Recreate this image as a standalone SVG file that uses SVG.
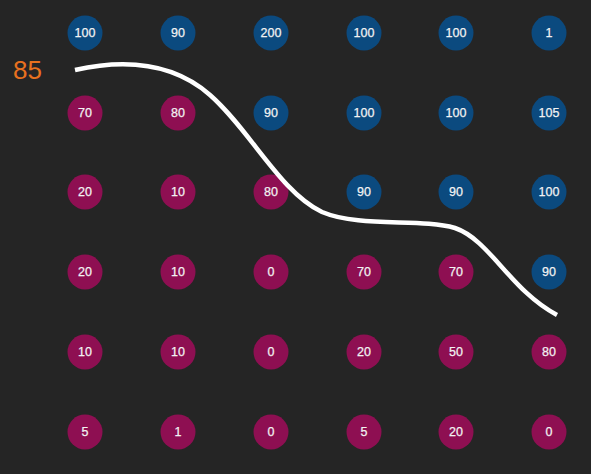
<svg xmlns="http://www.w3.org/2000/svg" width="591" height="474" viewBox="0 0 591 474">
<style>
.b{fill:#0b4a7f}
.r{fill:#8e0f52}
text{font-family:"Liberation Sans",Arial,sans-serif}
.t{fill:#f2f2f2;font-size:12.5px;text-anchor:middle;dominant-baseline:central;stroke:#f2f2f2;stroke-width:0.25}
</style>
<rect width="591" height="474" fill="#252525"/>
<text x="13" y="79" font-size="26" fill="#e8711f">85</text>
<g id="nodes">
<g id="n0_0"><circle class="b" cx="85" cy="33" r="17.5"/><text class="t" x="85" y="33">100</text></g>
<g id="n0_1"><circle class="b" cx="178" cy="33" r="17.5"/><text class="t" x="178" y="33">90</text></g>
<g id="n0_2"><circle class="b" cx="271" cy="33" r="17.5"/><text class="t" x="271" y="33">200</text></g>
<g id="n0_3"><circle class="b" cx="364" cy="33" r="17.5"/><text class="t" x="364" y="33">100</text></g>
<g id="n0_4"><circle class="b" cx="456" cy="33" r="17.5"/><text class="t" x="456" y="33">100</text></g>
<g id="n0_5"><circle class="b" cx="549" cy="33" r="17.5"/><text class="t" x="549" y="33">1</text></g>

<g id="n1_0"><circle class="r" cx="85" cy="113" r="17.5"/><text class="t" x="85" y="113">70</text></g>
<g id="n1_1"><circle class="r" cx="178" cy="113" r="17.5"/><text class="t" x="178" y="113">80</text></g>
<g id="n1_2"><circle class="b" cx="271" cy="113" r="17.5"/><text class="t" x="271" y="113">90</text></g>
<g id="n1_3"><circle class="b" cx="364" cy="113" r="17.5"/><text class="t" x="364" y="113">100</text></g>
<g id="n1_4"><circle class="b" cx="456" cy="113" r="17.5"/><text class="t" x="456" y="113">100</text></g>
<g id="n1_5"><circle class="b" cx="549" cy="113" r="17.5"/><text class="t" x="549" y="113">105</text></g>

<g id="n2_0"><circle class="r" cx="85" cy="192" r="17.5"/><text class="t" x="85" y="192">20</text></g>
<g id="n2_1"><circle class="r" cx="178" cy="192" r="17.5"/><text class="t" x="178" y="192">10</text></g>
<g id="n2_2"><circle class="r" cx="271" cy="192" r="17.5"/><text class="t" x="271" y="192">80</text></g>
<g id="n2_3"><circle class="b" cx="364" cy="192" r="17.5"/><text class="t" x="364" y="192">90</text></g>
<g id="n2_4"><circle class="b" cx="456" cy="192" r="17.5"/><text class="t" x="456" y="192">90</text></g>
<g id="n2_5"><circle class="b" cx="549" cy="192" r="17.5"/><text class="t" x="549" y="192">100</text></g>

<g id="n3_0"><circle class="r" cx="85" cy="272" r="17.5"/><text class="t" x="85" y="272">20</text></g>
<g id="n3_1"><circle class="r" cx="178" cy="272" r="17.5"/><text class="t" x="178" y="272">10</text></g>
<g id="n3_2"><circle class="r" cx="271" cy="272" r="17.5"/><text class="t" x="271" y="272">0</text></g>
<g id="n3_3"><circle class="r" cx="364" cy="272" r="17.5"/><text class="t" x="364" y="272">70</text></g>
<g id="n3_4"><circle class="r" cx="456" cy="272" r="17.5"/><text class="t" x="456" y="272">70</text></g>
<g id="n3_5"><circle class="b" cx="549" cy="272" r="17.5"/><text class="t" x="549" y="272">90</text></g>

<g id="n4_0"><circle class="r" cx="85" cy="352" r="17.5"/><text class="t" x="85" y="352">10</text></g>
<g id="n4_1"><circle class="r" cx="178" cy="352" r="17.5"/><text class="t" x="178" y="352">10</text></g>
<g id="n4_2"><circle class="r" cx="271" cy="352" r="17.5"/><text class="t" x="271" y="352">0</text></g>
<g id="n4_3"><circle class="r" cx="364" cy="352" r="17.5"/><text class="t" x="364" y="352">20</text></g>
<g id="n4_4"><circle class="r" cx="456" cy="352" r="17.5"/><text class="t" x="456" y="352">50</text></g>
<g id="n4_5"><circle class="r" cx="549" cy="352" r="17.5"/><text class="t" x="549" y="352">80</text></g>

<g id="n5_0"><circle class="r" cx="85" cy="432" r="17.5"/><text class="t" x="85" y="432">5</text></g>
<g id="n5_1"><circle class="r" cx="178" cy="432" r="17.5"/><text class="t" x="178" y="432">1</text></g>
<g id="n5_2"><circle class="r" cx="271" cy="432" r="17.5"/><text class="t" x="271" y="432">0</text></g>
<g id="n5_3"><circle class="r" cx="364" cy="432" r="17.5"/><text class="t" x="364" y="432">5</text></g>
<g id="n5_4"><circle class="r" cx="456" cy="432" r="17.5"/><text class="t" x="456" y="432">20</text></g>
<g id="n5_5"><circle class="r" cx="549" cy="432" r="17.5"/><text class="t" x="549" y="432">0</text></g>
</g>
<g id="connectors">
<path d="M75,70 C120,60 170,60 210,95 C250,130 280,192 322,212 C360,228 420,218 455,228 C490,240 510,290 557,315" fill="none" stroke="#ffffff" stroke-width="4.5" stroke-linecap="butt"/>
</g>
</svg>
